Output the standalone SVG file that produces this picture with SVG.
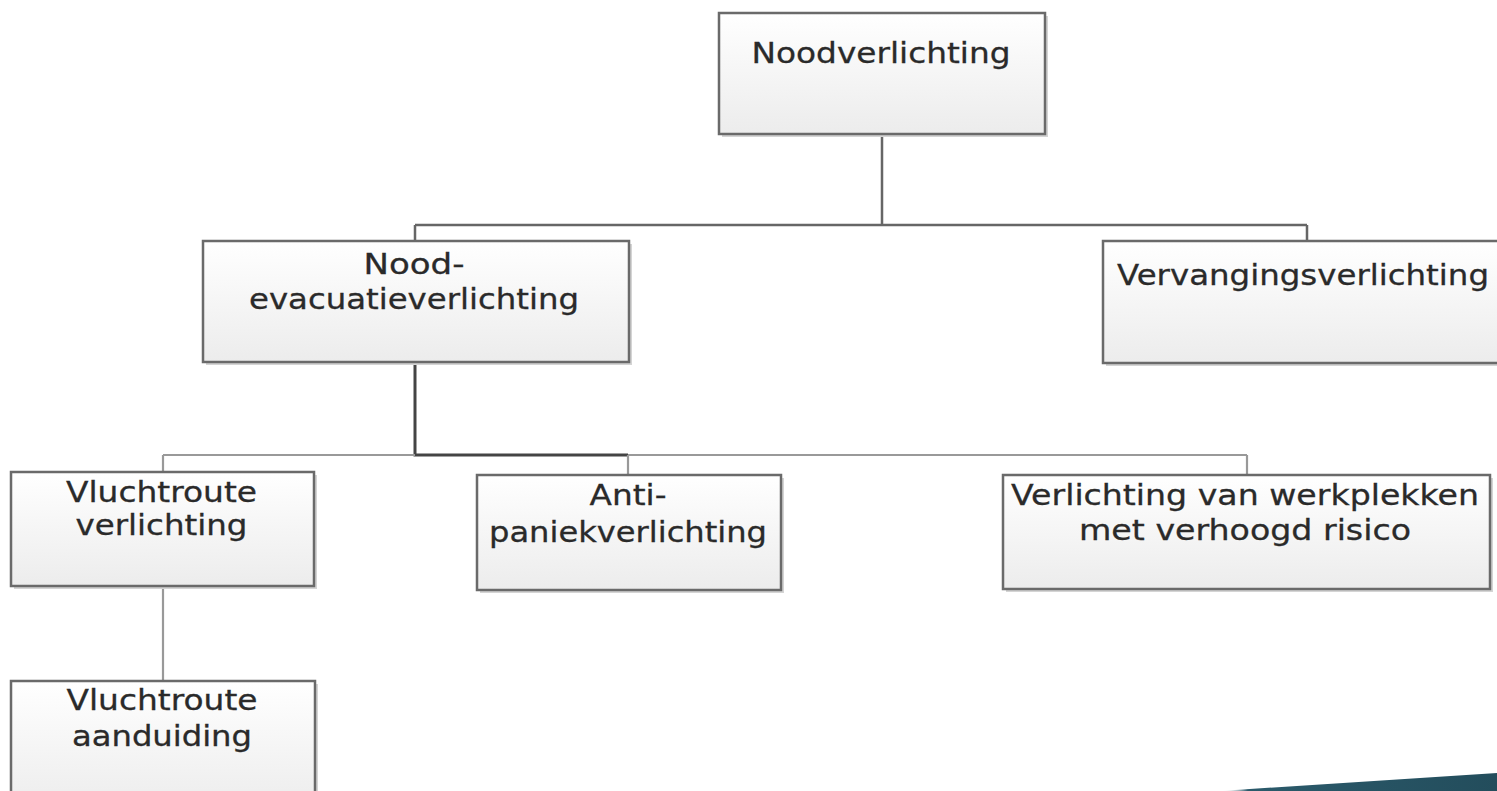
<svg xmlns="http://www.w3.org/2000/svg" width="1497" height="791" viewBox="0 0 1497 791">
<defs>
<linearGradient id="boxfill" x1="0" y1="0" x2="0" y2="1">
<stop offset="0" stop-color="#ffffff"/>
<stop offset="1" stop-color="#ececec"/>
</linearGradient>
<linearGradient id="teal" x1="0" y1="0" x2="1" y2="0">
<stop offset="0" stop-color="#ffffff" stop-opacity="0"/>
<stop offset="0.1" stop-color="#2b5a6b"/>
<stop offset="1" stop-color="#234d5c"/>
</linearGradient>
</defs>
<style>
.box{fill:url(#boxfill);stroke:#6a6a6a;stroke-width:2.5}
.shadow{fill:#d4d4d4}
.lbl{font-family:"DejaVu Sans",Verdana,sans-serif;font-size:29px;fill:#2a2a2a;stroke:#2a2a2a;stroke-width:0.3;text-anchor:middle}
.con{fill:none;stroke:#666;stroke-width:2.5}
.con-dark{fill:none;stroke:#444;stroke-width:3}
.con-light{fill:none;stroke:#999;stroke-width:2.2}
</style>
<rect width="1497" height="791" fill="#ffffff"/>
<polygon points="1220,791 1497,773 1497,791" fill="url(#teal)"/>
<g id="connectors">
<path class="con" d="M882,134 V225 M415,225 H1307 M415,225 V241 M1307,225 V241"/>
<path class="con-dark" d="M415,362 V455 H628"/>
<path class="con-light" d="M163,455 H415 M628,455 H1247 M163,455 V472 M628,455 V475 M1247,455 V475"/>
<path class="con-light" d="M163,586 V681"/>
</g>
<g id="noodverlichting">
<rect class="shadow" x="722" y="16" width="326" height="121"/>
<rect class="box" x="719" y="13" width="326" height="121"/>
<text class="lbl" x="881" y="63" textLength="259" lengthAdjust="spacingAndGlyphs">Noodverlichting</text>
</g>
<g id="nood-evacuatieverlichting">
<rect class="shadow" x="206" y="244" width="426" height="121"/>
<rect class="box" x="203" y="241" width="426" height="121"/>
<text class="lbl" x="414" y="274" textLength="101" lengthAdjust="spacingAndGlyphs">Nood-</text>
<text class="lbl" x="414" y="309" textLength="330" lengthAdjust="spacingAndGlyphs">evacuatieverlichting</text>
</g>
<g id="vervangingsverlichting">
<rect class="shadow" x="1106" y="244" width="400" height="122"/>
<rect class="box" x="1103" y="241" width="400" height="122"/>
<text class="lbl" x="1303" y="285" textLength="372" lengthAdjust="spacingAndGlyphs">Vervangingsverlichting</text>
</g>
<g id="vluchtroute-verlichting">
<rect class="shadow" x="14" y="475" width="303" height="114"/>
<rect class="box" x="11" y="472" width="303" height="114"/>
<text class="lbl" x="161.5" y="502" textLength="191" lengthAdjust="spacingAndGlyphs">Vluchtroute</text>
<text class="lbl" x="161.5" y="535" textLength="172" lengthAdjust="spacingAndGlyphs">verlichting</text>
</g>
<g id="anti-paniekverlichting">
<rect class="shadow" x="480" y="478" width="304" height="115"/>
<rect class="box" x="477" y="475" width="304" height="115"/>
<text class="lbl" x="628" y="505" textLength="77" lengthAdjust="spacingAndGlyphs">Anti-</text>
<text class="lbl" x="628" y="542" textLength="278" lengthAdjust="spacingAndGlyphs">paniekverlichting</text>
</g>
<g id="verlichting-werkplekken">
<rect class="shadow" x="1006" y="478" width="487" height="114"/>
<rect class="box" x="1003" y="475" width="487" height="114"/>
<text class="lbl" x="1245" y="505" textLength="468" lengthAdjust="spacingAndGlyphs">Verlichting van werkplekken</text>
<text class="lbl" x="1245" y="540" textLength="332" lengthAdjust="spacingAndGlyphs">met verhoogd risico</text>
</g>
<g id="vluchtroute-aanduiding">
<rect class="shadow" x="14" y="684" width="304" height="130"/>
<rect class="box" x="11" y="681" width="304" height="130"/>
<text class="lbl" x="162" y="710" textLength="191" lengthAdjust="spacingAndGlyphs">Vluchtroute</text>
<text class="lbl" x="162" y="746" textLength="180" lengthAdjust="spacingAndGlyphs">aanduiding</text>
</g>
</svg>
